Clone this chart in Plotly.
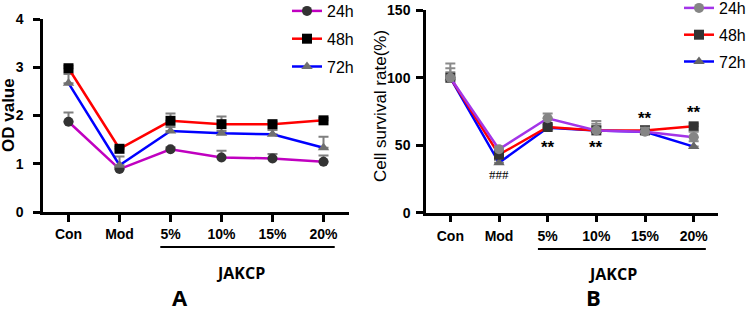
import plotly.graph_objects as go

categories = ["Con", "Mod", "5%", "10%", "15%", "20%"]
series_names = ["24h", "48h", "72h"]

# Panel A: OD value
od_24h = [1.87, 0.89, 1.30, 1.13, 1.11, 1.04]
od_48h = [2.98, 1.31, 1.89, 1.82, 1.82, 1.90]
od_72h = [2.67, 0.97, 1.68, 1.63, 1.61, 1.33]
od_err_24h = [0.19, 0.05, 0.04, 0.14, 0.09, 0.13]
od_err_48h = [0.05, 0.05, 0.15, 0.16, 0.05, 0.05]
od_err_72h = [0.19, 0.18, 0.08, 0.05, 0.09, 0.23]

# Panel B: Cell survival rate (%)
sr_24h = [100, 47, 70, 61, 60, 56]
sr_48h = [100, 43, 63.5, 61, 61, 64]
sr_72h = [100, 37, 63, 61, 60, 49]
sr_err_24h = [10.5, 2, 3.5, 7, 3, 4]
sr_err_48h = [7, 2, 2, 5, 3, 2]
sr_err_72h = [4, 2, 2, 3, 2, 4]

# significance marks in panel B
sig_cats = ["Mod", "5%", "10%", "15%", "20%"]
sig_y = [28, 48, 48, 70, 74.5]
sig_text = ["###", "**", "**", "**", "**"]

group_label = "JAKCP"
panel_labels = ["A", "B"]

W, H = 750, 314
def px(x): return x / W
def py(y): return 1 - y / H

line_colors_A = {"24h": "#C000C0", "48h": "#FF0000", "72h": "#0000FF"}
line_colors_B = {"24h": "#A335E8", "48h": "#FF0000", "72h": "#0000FF"}
marker_A = {"24h": ("circle", "#333333"), "48h": ("square", "#000000"), "72h": ("triangle-up", "#707070")}
marker_B = {"24h": ("circle", "#858585"), "48h": ("square", "#333333"), "72h": ("triangle-up", "#666666")}

fig = go.Figure()

dataA = {"24h": (od_24h, od_err_24h), "48h": (od_48h, od_err_48h), "72h": (od_72h, od_err_72h)}
dataB = {"24h": (sr_24h, sr_err_24h), "48h": (sr_48h, sr_err_48h), "72h": (sr_72h, sr_err_72h)}

for name in ["24h", "72h", "48h"]:
    vals, err = dataA[name]
    sym, mcol = marker_A[name]
    fig.add_trace(go.Scatter(
        x=categories, y=vals, name=name, mode="lines+markers",
        xaxis="x", yaxis="y", legend="legend",
        legendrank=series_names.index(name),
        line=dict(color=line_colors_A[name], width=2.5),
        marker=dict(symbol=sym, color=mcol, size=10),
        error_y=dict(type="data", array=err, arrayminus=[0]*len(err), symmetric=False,
                     color="#7f7f7f", thickness=2, width=5),
        cliponaxis=False,
    ))

for name in ["72h", "48h", "24h"]:
    vals, err = dataB[name]
    sym, mcol = marker_B[name]
    fig.add_trace(go.Scatter(
        x=categories, y=vals, name=name, mode="lines+markers",
        xaxis="x2", yaxis="y2", legend="legend2",
        legendrank=series_names.index(name),
        line=dict(color=line_colors_B[name], width=2.5),
        marker=dict(symbol=sym, color=mcol, size=10),
        error_y=dict(type="data", array=err, arrayminus=[0]*len(err), symmetric=False,
                     color="#8a8a8a", thickness=2, width=5),
        cliponaxis=False,
    ))

tickfont = dict(family="Liberation Sans", size=14, color="black", weight="bold")
axis_common = dict(showline=True, linecolor="black", linewidth=2.5, ticks="outside",
                   ticklen=7, tickwidth=2.5, tickcolor="black", showgrid=False,
                   zeroline=False, tickfont=tickfont, automargin=False)

legend_font = dict(family="Liberation Sans", size=16, color="black")

fig.update_layout(
    width=W, height=H, margin=dict(l=0, r=0, t=0, b=0, autoexpand=False),
    paper_bgcolor="white", plot_bgcolor="white",
    xaxis=dict(domain=[px(43), px(349)], type="category", range=[-0.5, 5.5],
               anchor="y", ticklabelstandoff=0, **axis_common),
    yaxis=dict(domain=[py(212), py(19)], range=[0, 4], tickvals=[0, 1, 2, 3, 4],
               anchor="x", ticklabelstandoff=7, **axis_common),
    xaxis2=dict(domain=[px(426), px(718)], type="category", range=[-0.5, 5.5],
                anchor="y2", ticklabelstandoff=2, **axis_common),
    yaxis2=dict(domain=[py(212.7), py(10.3)], range=[0, 150], tickvals=[0, 50, 100, 150],
                anchor="x2", ticklabelstandoff=3, **axis_common),
    legend=dict(x=px(287), y=1 + 6 / H, xanchor="left", yanchor="top",
                font=legend_font, bgcolor="rgba(0,0,0,0)", tracegroupgap=4, itemwidth=30),
    legend2=dict(x=px(679), y=1 + 9 / H, xanchor="left", yanchor="top",
                 font=legend_font, bgcolor="rgba(0,0,0,0)", tracegroupgap=3, itemwidth=30),
    showlegend=True,
)

# group each trace separately so tracegroupgap spaces items
for i, tr in enumerate(fig.data):
    tr.legendgroup = f"g{i}"

# underline bars under JAKCP
fig.add_shape(type="line", xref="x", yref="paper", x0=1.8, x1=5.22, y0=py(247), y1=py(247),
              line=dict(color="black", width=2.2))
fig.add_shape(type="line", xref="x2", yref="paper", x0=1.8, x1=5.25, y0=py(249), y1=py(249),
              line=dict(color="black", width=2.2))

def ann(text, x, y, font, xanchor="center", yanchor="middle", **kw):
    fig.add_annotation(text=text, x=x, y=y, showarrow=False, font=font,
                       xanchor=xanchor, yanchor=yanchor, **kw)

ann_font_group = dict(family="Open Sans", size=16, color="black", weight="bold")
ann(group_label, px(240), py(273), ann_font_group, xref="paper", yref="paper")
ann(group_label, px(612), py(274), ann_font_group, xref="paper", yref="paper")
panel_font = dict(family="Open Sans", size=22, color="black", weight="bold")
ann(panel_labels[0], px(180), 0, panel_font, yanchor="bottom", xref="paper", yref="paper")
ann(panel_labels[1], px(593), 0, panel_font, yanchor="bottom", xref="paper", yref="paper")

# axis titles
ann("OD value", px(8), py(115),
    dict(family="Liberation Sans", size=17, color="black", weight="bold"),
    xref="paper", yref="paper", textangle=-90)
ann("Cell survival rate(%)", px(381), py(106),
    dict(family="Liberation Sans", size=17, color="black"),
    xref="paper", yref="paper", textangle=-90)

# significance marks
for c, yv, t in zip(sig_cats, sig_y, sig_text):
    if t.startswith("#"):
        f = dict(family="Liberation Serif", size=13, color="black")
    else:
        f = dict(family="Liberation Sans", size=17, color="black", weight="bold")
    ann(t, c, yv, f, xref="x2", yref="y2")

fig.write_html("out.html", config={"displayModeBar": False},
               post_script="document.body.style.margin='0px';")
